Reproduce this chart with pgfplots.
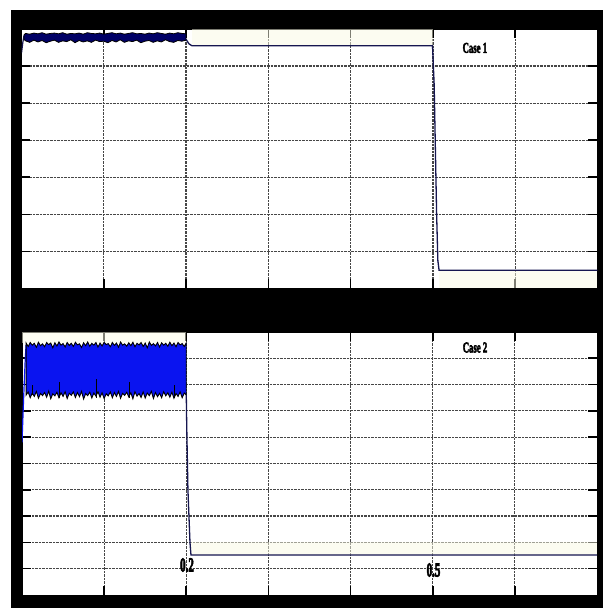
\documentclass[border=0pt]{standalone}
\usepackage{fontspec}
\setmainfont{Liberation Serif}
\newfontfamily\lblfont[FakeBold=4]{Liberation Serif}
\usepackage{pgfplots}
\usepackage{pgfplotstable}
\pgfplotsset{compat=1.18}

% Case 2 band outline: upper envelope left to right, then lower envelope right to left
\pgfplotstableread{
x y
0.0050 9.58
0.0075 9.45
0.0100 9.60
0.0125 9.50
0.0150 9.57
0.0175 9.42
0.0200 9.61
0.0225 9.48
0.0250 9.55
0.0275 9.44
0.0300 9.60
0.0325 9.52
0.0350 9.58
0.0375 9.40
0.0400 9.59
0.0425 9.47
0.0450 9.62
0.0475 9.50
0.0500 9.56
0.0525 9.43
0.0550 9.60
0.0575 9.49
0.0600 9.57
0.0625 9.45
0.0650 9.61
0.0675 9.51
0.0700 9.55
0.0725 9.41
0.0750 9.59
0.0775 9.48
0.0800 9.62
0.0825 9.46
0.0850 9.57
0.0875 9.50
0.0900 9.60
0.0925 9.43
0.0950 9.58
0.0975 9.47
0.1000 9.61
0.1025 9.52
0.1050 9.56
0.1075 9.44
0.1100 9.60
0.1125 9.49
0.1150 9.58
0.1175 9.42
0.1200 9.62
0.1225 9.50
0.1250 9.55
0.1275 9.46
0.1300 9.59
0.1325 9.48
0.1350 9.61
0.1375 9.44
0.1400 9.57
0.1425 9.51
0.1450 9.60
0.1475 9.45
0.1500 9.58
0.1525 9.40
0.1550 9.62
0.1575 9.49
0.1600 9.56
0.1625 9.47
0.1650 9.60
0.1675 9.43
0.1700 9.59
0.1725 9.50
0.1750 9.57
0.1775 9.46
0.1800 9.61
0.1825 9.48
0.1850 9.58
0.1875 9.44
0.1900 9.60
0.1925 9.51
0.1950 9.56
0.1975 9.45
0.2000 9.59
0.2000 7.60
0.1975 7.68
0.1950 7.50
0.1925 7.72
0.1900 7.55
0.1875 7.66
0.1850 7.48
0.1825 7.71
0.1800 7.52
0.1775 7.69
0.1750 7.57
0.1725 7.73
0.1700 7.50
0.1675 7.67
0.1650 7.54
0.1625 7.70
0.1600 7.47
0.1575 7.74
0.1550 7.58
0.1525 7.68
0.1500 7.49
0.1475 7.72
0.1450 7.51
0.1425 7.66
0.1400 7.56
0.1375 7.73
0.1350 7.46
0.1325 7.69
0.1300 7.53
0.1275 7.71
0.1250 7.59
0.1225 7.67
0.1200 7.48
0.1175 7.74
0.1150 7.55
0.1125 7.70
0.1100 7.50
0.1075 7.72
0.1050 7.57
0.1025 7.65
0.1000 7.47
0.0975 7.69
0.0950 7.52
0.0925 7.73
0.0900 7.56
0.0875 7.68
0.0850 7.49
0.0825 7.71
0.0800 7.58
0.0775 7.66
0.0750 7.45
0.0725 7.74
0.0700 7.54
0.0675 7.70
0.0650 7.51
0.0625 7.72
0.0600 7.59
0.0575 7.67
0.0550 7.47
0.0525 7.73
0.0500 7.55
0.0475 7.69
0.0450 7.50
0.0425 7.71
0.0400 7.57
0.0375 7.65
0.0350 7.46
0.0325 7.75
0.0300 7.52
0.0275 7.70
0.0250 7.58
0.0225 7.66
0.0200 7.48
0.0175 7.74
0.0150 7.55
0.0125 7.68
0.0100 7.50
0.0075 7.72
0.0050 7.60
}\bandtwo

% Case 1 band outline
\pgfplotstableread{
x y
0.003 6.84
0.005 6.88
0.010 6.86
0.015 6.89
0.020 6.87
0.025 6.90
0.030 6.86
0.035 6.88
0.040 6.89
0.045 6.87
0.050 6.90
0.055 6.86
0.060 6.88
0.065 6.87
0.070 6.89
0.075 6.86
0.080 6.90
0.085 6.88
0.090 6.87
0.095 6.89
0.100 6.86
0.105 6.88
0.110 6.90
0.115 6.87
0.120 6.89
0.125 6.86
0.130 6.88
0.135 6.90
0.140 6.87
0.145 6.88
0.150 6.86
0.155 6.89
0.160 6.87
0.165 6.90
0.170 6.88
0.175 6.86
0.180 6.89
0.185 6.87
0.190 6.90
0.195 6.88
0.200 6.87
0.200 6.70
0.195 6.67
0.190 6.69
0.185 6.64
0.180 6.66
0.175 6.71
0.170 6.65
0.165 6.68
0.160 6.64
0.155 6.69
0.150 6.67
0.145 6.63
0.140 6.70
0.135 6.66
0.130 6.68
0.125 6.64
0.120 6.71
0.115 6.65
0.110 6.69
0.105 6.63
0.100 6.67
0.095 6.66
0.090 6.70
0.085 6.64
0.080 6.68
0.075 6.65
0.070 6.69
0.065 6.63
0.060 6.71
0.055 6.66
0.050 6.68
0.045 6.64
0.040 6.70
0.035 6.67
0.030 6.63
0.025 6.69
0.020 6.65
0.015 6.70
0.010 6.64
0.005 6.68
0.003 6.72
}\bandone

\definecolor{navy}{RGB}{22,22,80}
\definecolor{bandblue}{RGB}{10,20,240}
\definecolor{gridgray}{RGB}{70,70,70}
\definecolor{paleyel}{RGB}{250,250,228}

\pgfplotsset{
  scopepanel/.style={
    scale only axis,
    anchor=south west,
    xmin=0, xmax=0.7,
    xtick={0.1,0.2,0.3,0.4,0.5,0.6},
    xticklabels={}, yticklabels={},
    grid=major,
    grid style={densely dotted, line width=1.2pt, gridgray},
    major tick length=9pt,
    tick style={line width=1.6pt, black},
    tick align=inside,
    axis line style={line width=0.8pt, black},
    axis background/.style={fill=white},
  }
}

\begin{document}
\begin{tikzpicture}
\fill[white] (0pt,0pt) rectangle (603pt,608pt);
\fill[black] (10.5pt,0pt) rectangle (603pt,597.5pt);

% ---------- Case 1 ----------
\begin{axis}[scopepanel, at={(21.5pt,319.5pt)}, width=576pt, height=259.5pt,
  ymin=0, ymax=7, ytick={1,2,3,4,5,6}]
\addplot[fill=paleyel, draw=none, fill opacity=0.5] coordinates {(0.207,6.55) (0.5,6.55) (0.5,7) (0.207,7)} -- cycle;
\addplot[fill=paleyel, draw=none, fill opacity=0.5] coordinates {(0.5075,0) (0.7,0) (0.7,0.49) (0.5075,0.49)} -- cycle;
\addplot[navy, line width=1.2pt] coordinates {(0,6.35) (0.0015,6.62) (0.003,6.82)};
\addplot[fill=blue!40!black, draw=black, line width=0.8pt] table[x=x,y=y] {\bandone} -- cycle;
\addplot[navy, line width=1.3pt] coordinates {(0.2,6.72) (0.2035,6.6) (0.207,6.55) (0.4995,6.55) (0.5015,5.5) (0.5045,2.0) (0.506,0.75) (0.5075,0.49) (0.7,0.49)};
\node[font=\lblfont\bfseries\fontsize{15}{15}\selectfont, xscale=0.58] at (axis cs:0.551,6.49) {Case 1};
\end{axis}

% ---------- Case 2 ----------
\begin{axis}[scopepanel, at={(22pt,13pt)}, width=575pt, height=263pt,
  ymin=0, ymax=10, ytick={1,2,3,4,5,6,7,8,9}]
\addplot[fill=paleyel, draw=none, fill opacity=0.5] coordinates {(0.2057,1.52) (0.7,1.52) (0.7,2) (0.2057,2)} -- cycle;
\addplot[fill=paleyel, draw=none, fill opacity=0.5] coordinates {(0,9.6) (0.2,9.6) (0.2,10) (0,10)} -- cycle;
\addplot[bandblue, line width=1.2pt] coordinates {(0,5.8) (0.002,7.5) (0.004,9.0) (0.005,9.5)};
\addplot[fill=bandblue, draw=black, line width=0.9pt] table[x=x,y=y] {\bandtwo} -- cycle;
\addplot[black, line width=0.6pt, unbounded coords=jump] coordinates {
 (0.0125,7.6) (0.0125,8.0) (0.013,nan)
 (0.045,7.5) (0.045,8.1) (0.046,nan)
 (0.090,7.5) (0.090,8.2) (0.091,nan)
 (0.131,7.5) (0.131,8.1) (0.132,nan)
 (0.185,7.5) (0.185,8.0)};
\addplot[navy, line width=1.3pt] coordinates {(0.2,7.6) (0.2005,6.5) (0.202,4.0) (0.2045,2.0) (0.2057,1.52) (0.7,1.52)};
\node[font=\lblfont\bfseries\fontsize{15}{15}\selectfont, xscale=0.58] at (axis cs:0.5515,9.41) {Case 2};
\node[font=\lblfont\bfseries\fontsize{20}{20}\selectfont, xscale=0.55] at (axis cs:0.2009,1.14) {0.2};
\node[font=\lblfont\bfseries\fontsize{20}{20}\selectfont, xscale=0.55] at (axis cs:0.501,0.95) {0.5};
\end{axis}
\end{tikzpicture}
\end{document}
